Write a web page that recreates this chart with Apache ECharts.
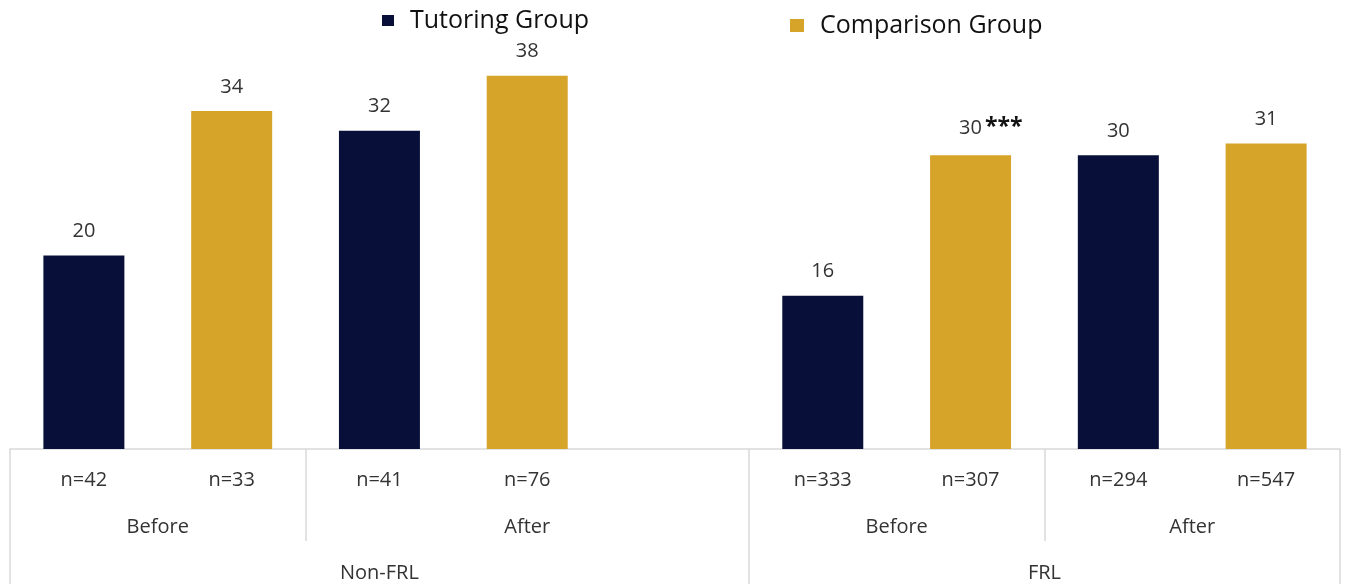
<!DOCTYPE html>
<html>
<head>
<meta charset="utf-8">
<script src="https://cdn.jsdelivr.net/npm/echarts@6/dist/echarts.min.js"></script>
<style>
  html, body { margin: 0; padding: 0; background: #fff; }
  #chart { width: 1346px; height: 584px; }
</style>
</head>
<body>
<div id="chart"></div>
<script>
// bar slots (one empty slot between the two groups)
const sampleSizes = ['n=42', 'n=33', 'n=41', 'n=76', '', 'n=333', 'n=307', 'n=294', 'n=547']
const tutoring   = [19.7, null, 32.4, null, null, 15.6, null, 29.9, null]
const comparison = [null, 34.4, null, 38.0, null, null, 29.9, null, 31.1]
const compNotes  = ['', '', '', '', '', '', '***', '', '']

// second and third label rows, with how many slots each one covers
const periods = ['Before', 'After', 'Before', 'After']
const periodSpans = [2, 3, 2, 2]
const groups = ['Non-FRL', 'FRL']
const groupSpans = [5, 4]

const NAVY = '#08103a'
const GOLD = '#d6a429'
const TEXT = '#333333'
const LINE = '#d9d9d9'
const FONT = 'Open Sans'

// half-slot grid: 2 points per slot, plus the end point
const nPts = sampleSizes.length * 2 + 1
function buildRow(names, spans) {
  const labels = new Array(nPts).fill('')
  const bounds = [0]
  let start = 0
  names.forEach((name, i) => {
    labels[start * 2 + spans[i]] = name
    start += spans[i]
    bounds.push(start * 2)
  })
  return { labels, bounds }
}
const periodRow = buildRow(periods, periodSpans)
const groupRow = buildRow(groups, groupSpans)

const chart = echarts.init(document.getElementById('chart'))

const roundLabel = p => Math.round(p.value)

chart.setOption({
  animation: false,
  textStyle: { fontFamily: FONT },
  legend: [
    {
      data: ['Tutoring Group'],
      left: 377, top: 3,
      itemWidth: 12, itemHeight: 11,
      icon: 'rect',
      textStyle: { fontSize: 25, color: '#111', fontFamily: FONT, padding: [0, 0, 14, 11] }
    },
    {
      data: ['Comparison Group'],
      left: 785, top: 8,
      itemWidth: 14, itemHeight: 13,
      icon: 'rect',
      textStyle: { fontSize: 25, color: '#111', fontFamily: FONT, padding: [0, 0, 0, 11] }
    }
  ],
  grid: { left: 10, right: 6, top: 56, bottom: 135, containLabel: false },
  xAxis: [
    {
      type: 'category',
      data: sampleSizes,
      boundaryGap: true,
      axisLine: { lineStyle: { color: LINE, width: 1.5 } },
      axisTick: { show: false },
      axisLabel: { interval: 0, fontSize: 20, color: TEXT, margin: 21, fontFamily: FONT }
    },
    {
      type: 'category',
      data: periodRow.labels,
      boundaryGap: false,
      position: 'bottom',
      axisLine: { show: false },
      axisTick: {
        show: true, length: 92,
        interval: (idx) => periodRow.bounds.includes(idx),
        lineStyle: { color: LINE, width: 1.5 }
      },
      axisLabel: { interval: 0, fontSize: 20, color: TEXT, margin: 68, fontFamily: FONT }
    },
    {
      type: 'category',
      data: groupRow.labels,
      boundaryGap: false,
      position: 'bottom',
      axisLine: { show: false },
      axisTick: {
        show: true, length: 150,
        interval: (idx) => groupRow.bounds.includes(idx),
        lineStyle: { color: LINE, width: 1.5 }
      },
      axisLabel: { interval: 0, fontSize: 20, color: TEXT, margin: 114, fontFamily: FONT }
    }
  ],
  yAxis: { type: 'value', min: 0, max: 40, show: false },
  series: [
    {
      name: 'Tutoring Group',
      type: 'bar',
      data: tutoring,
      barWidth: 81,
      barGap: '-100%',
      itemStyle: { color: NAVY },
      label: {
        show: true, position: 'top', distance: 14,
        fontSize: 20, color: TEXT, fontFamily: FONT,
        formatter: roundLabel
      }
    },
    {
      name: 'Comparison Group',
      type: 'bar',
      data: comparison,
      barWidth: 81,
      barGap: '-100%',
      itemStyle: { color: GOLD },
      label: {
        show: true, position: 'top', distance: 14,
        fontSize: 20, color: TEXT, fontFamily: FONT,
        formatter: p => {
          const note = compNotes[p.dataIndex]
          const v = Math.round(p.value)
          // invisible copy of the note on the left keeps the number centred
          return note ? `{h|${note}}${v}{s|${note}}` : String(v)
        },
        rich: {
          h: { fontSize: 23, fontWeight: 'bold', color: 'rgba(0,0,0,0)', padding: [0, 3, 2, 0], verticalAlign: 'bottom' },
          s: { fontSize: 23, fontWeight: 'bold', color: '#111', padding: [0, 0, 2, 3], verticalAlign: 'bottom' }
        }
      }
    }
  ]
})
</script>
</body>
</html>
